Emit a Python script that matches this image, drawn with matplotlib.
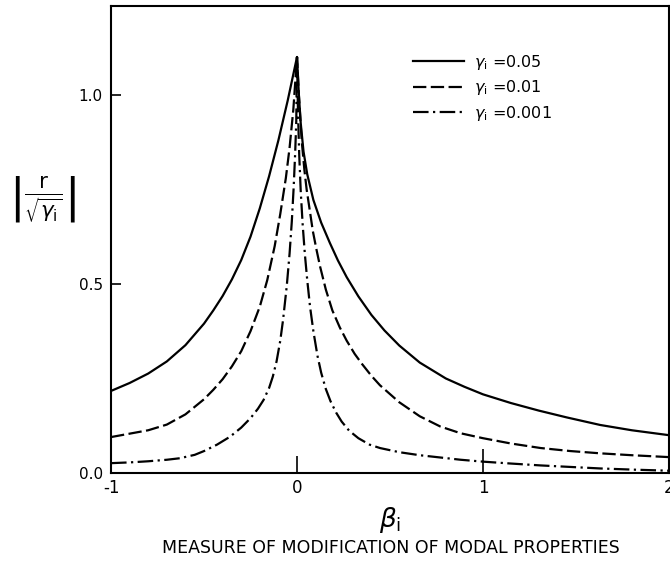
import numpy as np
import matplotlib
matplotlib.use("Agg")
import matplotlib.pyplot as plt

# |r / sqrt(gamma_i)| against beta_i, three damping levels
beta_05 = [-1.0, -0.9, -0.8, -0.7, -0.6, -0.5, -0.45, -0.4, -0.35, -0.3, -0.25, -0.2, -0.15,
           -0.1, -0.05, 0.0,
           0.01, 0.02, 0.035, 0.055, 0.088, 0.13, 0.177, 0.22, 0.267, 0.33, 0.4, 0.47, 0.55,
           0.66, 0.8, 0.9, 1.0, 1.15, 1.3, 1.45, 1.63, 1.8, 2.0]
val_05 = [0.217, 0.238, 0.263, 0.295, 0.338, 0.395, 0.43, 0.468, 0.512, 0.563, 0.625, 0.70, 0.785,
          0.88, 0.985, 1.10,
          1.0, 0.925, 0.85, 0.79, 0.722, 0.662, 0.608, 0.562, 0.518, 0.467, 0.418, 0.377, 0.337,
          0.292, 0.25, 0.228, 0.208, 0.185, 0.165, 0.147, 0.127, 0.113, 0.10]

beta_01 = [-1.0, -0.9, -0.8, -0.7, -0.6, -0.5, -0.45, -0.4, -0.35, -0.3, -0.25, -0.2, -0.16,
           -0.12, -0.09, -0.06, -0.04, -0.02, 0.0,
           0.01, 0.025, 0.04, 0.052, 0.07, 0.085, 0.105, 0.124, 0.155, 0.19, 0.23, 0.267, 0.31,
           0.35, 0.4, 0.446, 0.55, 0.66, 0.77, 0.88, 1.0, 1.15, 1.31, 1.47, 1.63, 1.8, 2.0]
val_01 = [0.095, 0.104, 0.113, 0.128, 0.155, 0.195, 0.22, 0.248, 0.282, 0.322, 0.375, 0.44, 0.51,
          0.60, 0.685, 0.78, 0.86, 0.96, 1.10,
          1.0, 0.88, 0.80, 0.749, 0.69, 0.64, 0.59, 0.546, 0.485, 0.43, 0.385, 0.35, 0.315,
          0.288, 0.257, 0.232, 0.187, 0.15, 0.123, 0.105, 0.092, 0.078, 0.066, 0.058, 0.052, 0.047, 0.042]

beta_001 = [-1.0, -0.9, -0.8, -0.7, -0.63, -0.55, -0.5, -0.43, -0.36, -0.3, -0.25, -0.21, -0.18,
            -0.15, -0.13, -0.11, -0.09, -0.075, -0.055, -0.04, -0.028, -0.018, -0.01, -0.004, 0.0,
            0.005, 0.012, 0.02, 0.03, 0.042, 0.055, 0.07, 0.088, 0.11, 0.13, 0.155, 0.18, 0.21,
            0.24, 0.28, 0.33, 0.39, 0.446, 0.55, 0.66, 0.77, 0.88, 1.0, 1.15, 1.31, 1.47, 1.63,
            1.8, 2.0]
val_001 = [0.026, 0.028, 0.031, 0.035, 0.039, 0.048, 0.058, 0.075, 0.096, 0.12, 0.145, 0.17, 0.193,
           0.225, 0.255, 0.295, 0.35, 0.405, 0.495, 0.58, 0.665, 0.755, 0.845, 0.93, 1.10,
           0.96, 0.84, 0.745, 0.66, 0.58, 0.51, 0.44, 0.375, 0.31, 0.265, 0.222, 0.19, 0.16,
           0.136, 0.112, 0.092, 0.075, 0.066, 0.055, 0.047, 0.041, 0.035, 0.03, 0.025, 0.02, 0.016, 0.012,
           0.009, 0.006]

labels = [r"$\gamma_{\rm i}$ =0.05", r"$\gamma_{\rm i}$ =0.01", r"$\gamma_{\rm i}$ =0.001"]
xticks = [-1, 0, 1, 2]
xticklabels = ["-1", "0", "1", "2"]
yticks = [0.0, 0.5, 1.0]
yticklabels = ["0.0", "0.5", "1.0"]

plt.rcParams["font.family"] = "DejaVu Sans"
plt.rcParams["mathtext.fontset"] = "dejavusans"

fig = plt.figure(figsize=(6.7, 5.81), dpi=100)
ax = fig.add_axes([0.1657, 0.1859, 0.8328, 0.8038])

ax.plot(beta_05, val_05, color="black", lw=1.6, ls="-", label=labels[0])
ax.plot(beta_01, val_01, color="black", lw=1.6, ls=(0, (6, 2)), label=labels[1])
ax.plot(beta_001, val_001, color="black", lw=1.6, ls=(0, (7, 2, 1, 2)), label=labels[2])

ax.set_xlim(-1, 2)
ax.set_ylim(0, 1.235)
for s in ax.spines.values():
    s.set_linewidth(1.5)

ax.set_xticks(xticks)
ax.set_xticklabels(xticklabels, fontsize=12)
ax.set_yticks(yticks)
ax.set_yticklabels(yticklabels, fontsize=11)
ax.tick_params(axis="x", direction="in", length=12, width=1.2, pad=4)
ax.tick_params(axis="y", direction="in", length=7, width=1.2, pad=6)
# the tick at beta = 1 is drawn longer
ax.xaxis.get_major_ticks()[2].tick1line.set_markersize(17)

ax.set_xlabel(r"$\beta_{\rm i}$", fontsize=19, labelpad=6)
fig.text(0.064, 0.656, r"$\left|\frac{\mathrm{r}}{\sqrt{\gamma_{\rm i}}}\right|$", fontsize=22,
         ha="center", va="center")
fig.text(0.583, 0.057, "MEASURE OF MODIFICATION OF MODAL PROPERTIES", fontsize=12.5,
         ha="center", va="center")

ax.legend(loc="upper left", bbox_to_anchor=(0.53, 0.913), frameon=False, fontsize=11.5,
          handlelength=3.2, handletextpad=0.6, labelspacing=0.4, borderaxespad=0)

fig.savefig("out.png", dpi=100)
